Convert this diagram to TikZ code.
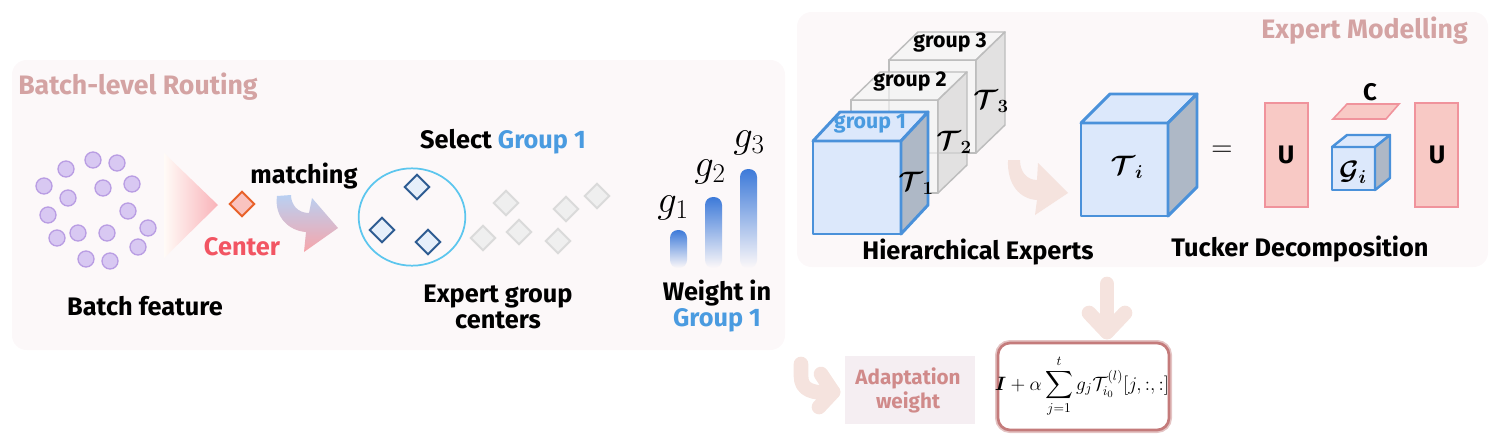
\RequirePackage{fix-cm}
\documentclass[tikz,border=0pt]{standalone}
\usepackage{amsmath,amssymb,bm}
\usepackage{fontspec}
\setmainfont{Fira Sans}
\usetikzlibrary{shapes.geometric,calc}
\definecolor{panelbg}{HTML}{FCF8F9}
\definecolor{titlerose}{HTML}{D4A3A3}
\definecolor{centerred}{HTML}{F25563}
\definecolor{grpblue}{HTML}{4A9BE0}
\definecolor{dotfill}{HTML}{D8C8F2}
\definecolor{dotline}{HTML}{B99DE3}
\definecolor{diaorange}{HTML}{E8622A}
\definecolor{diapink}{HTML}{F9C3C0}
\definecolor{diablue}{HTML}{2E5C92}
\definecolor{diablueF}{HTML}{E6EFFA}
\definecolor{diagray}{HTML}{DADADA}
\definecolor{diagrayF}{HTML}{EFEFEF}
\definecolor{ellblue}{HTML}{5CC6EE}
\definecolor{barblue}{HTML}{3D7AD9}
\definecolor{cubeblue}{HTML}{4A91DA}
\definecolor{cubeF}{HTML}{DCE8FB}
\definecolor{cubeS}{HTML}{AEB8C6}
\definecolor{grayF}{HTML}{F4F4F4}
\definecolor{grayS}{HTML}{D9D9D9}
\definecolor{grayL}{HTML}{BDBDBD}
\definecolor{ufill}{HTML}{F8C9C5}
\definecolor{uline}{HTML}{F0939C}
\definecolor{arrowbeige}{HTML}{F5E3DE}
\definecolor{adaptbg}{HTML}{F5EEF2}
\definecolor{adapttext}{HTML}{D08A8A}
\definecolor{boxline}{HTML}{C47B7B}
\definecolor{arrtop}{HTML}{B9D0F2}
\definecolor{arrmid}{HTML}{FCE0D2}
\definecolor{arrbot}{HTML}{F7A5AA}
\newcommand\mycube[8]{%
  \filldraw[#7] (#1,#2) rectangle (#3,#4);
  \filldraw[#7] (#1,#2) -- ({#1+#5},{#2+#6}) -- ({#3+#5},{#2+#6}) -- (#3,#2) -- cycle;
  \filldraw[#8] (#3,#2) -- ({#3+#5},{#2+#6}) -- ({#3+#5},{#4+#6}) -- (#3,#4) -- cycle;
}
\begin{document}
\begin{tikzpicture}[x=0.75pt,y=-0.75pt,
  lbl/.style={font=\bfseries\fontsize{19}{22}\selectfont, inner sep=0pt},
  small/.style={font=\bfseries\fontsize{16}{19}\selectfont, inner sep=0pt},
  ttl/.style={font=\bfseries\fontsize{20}{24}\selectfont, text=titlerose, inner sep=0pt},
  mathlbl/.style={font=\fontsize{20}{22}\selectfont, inner sep=0pt},
  glbl/.style={font=\fontsize{29}{31}\selectfont, inner sep=0pt},
  dot/.style={circle, fill=dotfill, draw=dotline, line width=1pt, minimum size=12pt, inner sep=0pt},
  dia/.style={diamond, aspect=1, minimum width=19pt, minimum height=19pt, inner sep=0pt, line width=1.5pt},
  bluedia/.style={dia, draw=diablue, fill=diablueF},
  graydia/.style={dia, draw=diagray, fill=diagrayF},
  gcube/.style={fill=grayF, fill opacity=0.72, draw=grayL, line width=1.1pt, line join=round},
  gcubeS/.style={fill=grayS, fill opacity=0.72, draw=grayL, line width=1.1pt, line join=round},
  bcube/.style={fill=cubeF, draw=cubeblue, line width=2.2pt, line join=round},
  bcubeS/.style={fill=cubeS, draw=cubeblue, line width=2.2pt, line join=round},
  urect/.style={fill=ufill, draw=uline, line width=1.2pt},
  fatarrow/.style={draw=arrowbeige, line width=11pt, line cap=round, line join=round}
]
\useasboundingbox (0,0) rectangle (1503,436);
% panels
\fill[panelbg, rounded corners=11pt] (12,60) rectangle (785,350);
\fill[panelbg, rounded corners=11pt] (797,12) rectangle (1488,267);
\node[ttl, anchor=west] (t1) at (18,87) {Batch-level Routing};
\node[ttl, anchor=east] (t2) at (1468,31) {Expert Modelling};
% batch feature dots
\foreach \x/\y [count=\i] in {93/160,117/163,66/169,44/186,103/188,132/184,68/198,48/215,128/211,57/238,78/233,107/233,148/228,138/247,86/259,110/261}
  \node[dot] (d\i) at (\x,\y) {};
\node[lbl] (bf) at (145,306) {Batch feature};
% gradient triangle
\shade[left color=white!60!orange!8, right color=centerred!45] (164,153) -- (218,205) -- (164,258) -- cycle;
\node[dia, draw=diaorange, fill=diapink] (ctr) at (242,204) {};
\node[lbl, text=centerred] (ctrl) at (242,247) {Center};
\node[lbl] (match) at (304,176) {matching};
% matching arrow
\shade[top color=arrtop, middle color=arrmid, bottom color=arrbot]
  (277,196) .. controls (274,218) and (290,231) .. (306,232) -- (304,252) -- (338,228) -- (312,198) -- (309,213)
  .. controls (298,213) and (291,205) .. (291,195) -- cycle;
% ellipse and diamonds
\node[ellipse, draw=ellblue, line width=1.3pt, minimum width=80pt, minimum height=73pt, inner sep=0pt] (ell) at (412,217) {};
\node[bluedia] (b1) at (417,187) {};
\node[bluedia] (b2) at (382,230) {};
\node[bluedia] (b3) at (428,242) {};
\node[graydia] (g1d) at (506,203) {};
\node[graydia] (g2d) at (483,238) {};
\node[graydia] (g3d) at (519,232) {};
\node[graydia] (g4d) at (566,209) {};
\node[graydia] (g5d) at (558,241) {};
\node[graydia] (g6d) at (597,196) {};
\node[lbl] (sel) at (503,142) {Select \textcolor{grpblue}{Group 1}};
\node[lbl, align=center] (egc) at (498,307) {Expert group\\[-2pt]centers};
% weight bars
\shade[rounded corners=6pt, top color=barblue, bottom color=panelbg] (670,268) rectangle (687,230);
\shade[rounded corners=6pt, top color=barblue, bottom color=panelbg] (705,268) rectangle (722,197);
\shade[rounded corners=6pt, top color=barblue, bottom color=panelbg] (740,268) rectangle (757,169);
\node[glbl] (gl1) at (673,208) {$g_1$};
\node[glbl] (gl2) at (710,172) {$g_2$};
\node[glbl] (gl3) at (749,143) {$g_3$};
\node[lbl, align=center] (wig) at (717,306) {Weight in\\[-2pt]\textcolor{grpblue}{Group 1}};
% hierarchical cubes
\mycube{889}{60}{976}{153}{29}{-28}{gcube}{gcubeS}
\mycube{851}{100}{938}{193}{29}{-28}{gcube}{gcubeS}
\mycube{813}{141}{901}{234}{27}{-29}{bcube}{bcubeS}
\node[small] (gr3) at (950,43) {group 3};
\node[small] (gr2) at (910,82) {group 2};
\node[small, text=grpblue] (gr1) at (870,124) {group 1};
\node[mathlbl] (T3) at (991,101) {$\bm{\mathcal{T}}_{\bm 3}$};
\node[mathlbl] (T2) at (954,142) {$\bm{\mathcal{T}}_{\bm 2}$};
\node[mathlbl] (T1) at (916,183) {$\bm{\mathcal{T}}_{\bm 1}$};
\node[lbl] (hex) at (978,252) {Hierarchical Experts};
% arrow to Ti
\fill[arrowbeige] (1008,160) .. controls (1007,185) and (1020,199) .. (1037,200) -- (1035,215) -- (1068,193) -- (1038,163) -- (1037,180)
  .. controls (1027,180) and (1020,172) .. (1020,160) -- cycle;
% Ti cube
\mycube{1081}{123}{1168}{216}{29}{-29}{bcube}{bcubeS}
\node[mathlbl] (Ti) at (1127,167) {$\bm{\mathcal{T}}_{\bm i}$};
\node[font=\fontsize{22}{24}\selectfont, inner sep=0pt] (eq) at (1222,151) {$=$};
\draw[urect] (1265,103) rectangle (1308,207);
\node[lbl] (U1) at (1286,155) {U};
\draw[urect] (1415,103) rectangle (1458,207);
\node[lbl] (U2) at (1437,155) {U};
\draw[urect] (1333,119) -- (1347,104) -- (1399,104) -- (1386,119) -- cycle;
\node[small, font=\bfseries\fontsize{18}{20}\selectfont] (C) at (1370,92) {C};
\mycube{1332}{147}{1375}{190}{15}{-12}{bcube, line width=1.8pt}{bcubeS, line width=1.8pt}
\node[mathlbl] (Gi) at (1353,172) {$\bm{\mathcal{G}}_{\bm i}$};
\node[lbl] (tuck) at (1300,249) {Tucker Decomposition};
% bottom
\coordinate (dtop) at (1107,284);
\coordinate (dtip) at (1107,332);
\draw[fatarrow] (dtop) -- (dtip);
\draw[fatarrow] (1089,313) -- (dtip) -- (1125,313);
\draw[boxline!45, line width=4.5pt, rounded corners=9pt] (998,343) rectangle (1169,430);
\draw[boxline, fill=white, line width=2pt, rounded corners=9pt] (998,343) rectangle (1169,430);
\node[inner sep=0pt, font=\fontsize{14.5}{16}\selectfont] (form) at (1082,386.5)
  {$\displaystyle \bm{I}+\alpha\sum_{j=1}^{t} g_j\mathcal{T}^{(l)}_{i_0}[j,:,:]$};
\fill[adaptbg] (845,356) rectangle (975,424);
\node[small, font=\bfseries\fontsize{15.5}{18}\selectfont, text=adapttext, align=center] (adapt) at (908,390) {Adaptation\\[0pt]weight};
\coordinate (hk1) at (801,364);
\coordinate (hktip) at (833,392);
\draw[fatarrow] (hk1) -- (801,376) .. controls (801,390) and (812,394) .. (hktip);
\draw[fatarrow] (821,374) -- (hktip) -- (819,407);
\end{tikzpicture}
\end{document}
